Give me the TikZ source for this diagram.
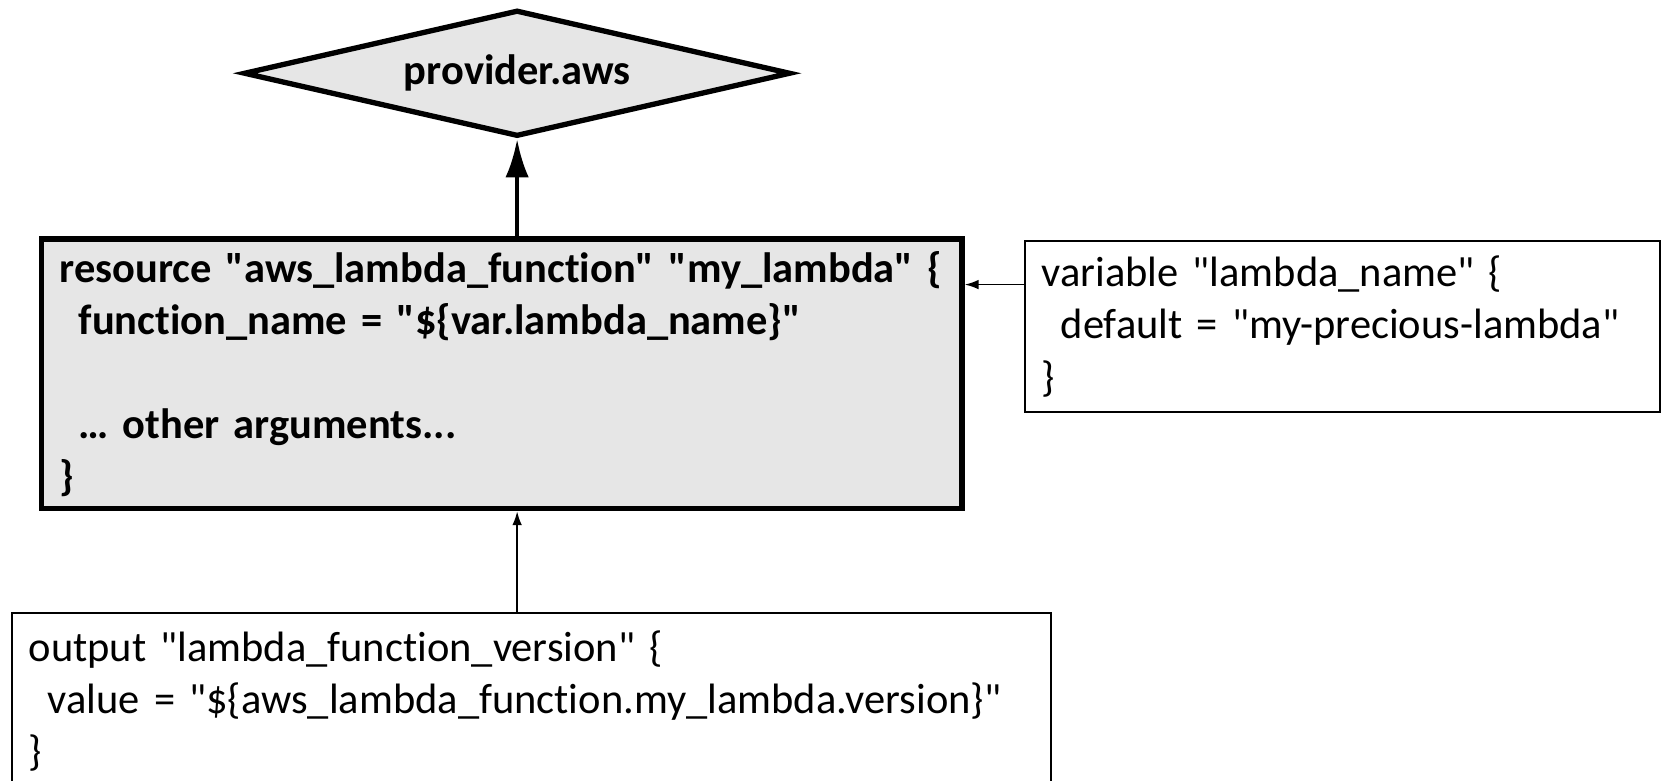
\documentclass[tikz,border=0pt]{standalone}
\usepackage{fontspec}
\defaultfontfeatures{}
\setmainfont{Carlito}[Ligatures={TeXOff,NoCommon}]
\usetikzlibrary{shapes.geometric,arrows.meta}
\definecolor{boxgray}{HTML}{E6E6E6}
\tikzset{
  codefont/.style={font=\fontsize{40}{49}\selectfont},
  heavybox/.style={draw, line width=5pt, fill=boxgray, rectangle, align=left, inner xsep=17pt, inner ysep=0pt, codefont},
  lightbox/.style={draw, line width=2pt, fill=white, rectangle, align=left, inner xsep=16pt, inner ysep=0pt, codefont},
  heavyarrow/.style={line width=4pt, -{Latex[length=36pt,width=22pt]}},
  lightarrow/.style={line width=1.6pt, -{Latex[length=13pt,width=9pt]}},
}
\newcommand{\ind}{\hspace*{0.45em}}
\begin{document}
\begin{tikzpicture}[x=1pt,y=-1pt]
\useasboundingbox (0,0) rectangle (1568,735);
\node[diamond, draw, line width=5pt, fill=boxgray, shape aspect=4.33, minimum width=515pt, minimum height=119pt, inner sep=0pt, codefont] (dia) at (487,69) {\bfseries provider.aws};
\node[heavybox, text width=833pt, minimum height=254pt] (res) at (472.5,352)
  {\bfseries resource "aws\_lambda\_function" "my\_lambda" \{\\
   \bfseries\ind function\_name = "\$\{var.lambda\_name\}"\\[49pt]
   \bfseries\ind … other arguments...\\
   \bfseries \}};
\node[lightbox, text width=566pt, minimum height=161pt] (var) at (1264,307.5)
  {variable "lambda\_name" \{\\
   \ind default = "my-precious-lambda"\\
   \}};
\node[lightbox, text width=947pt, minimum height=166pt] (out) at (500.5,660)
  {output "lambda\_function\_version" \{\\
   \ind value = "\$\{aws\_lambda\_function.my\_lambda.version\}"\\
   \}};
\coordinate (va) at ([yshift=-42pt]var.north west);
\coordinate (rb) at (res.south -| dia.south);
\coordinate (ot) at (out.north -| dia.south);
\draw[heavyarrow] (res.north -| dia.south) -- (dia.south);
\draw[lightarrow] (va) -- (va -| res.east);
\draw[lightarrow] (ot) -- (rb);
\end{tikzpicture}
\end{document}
